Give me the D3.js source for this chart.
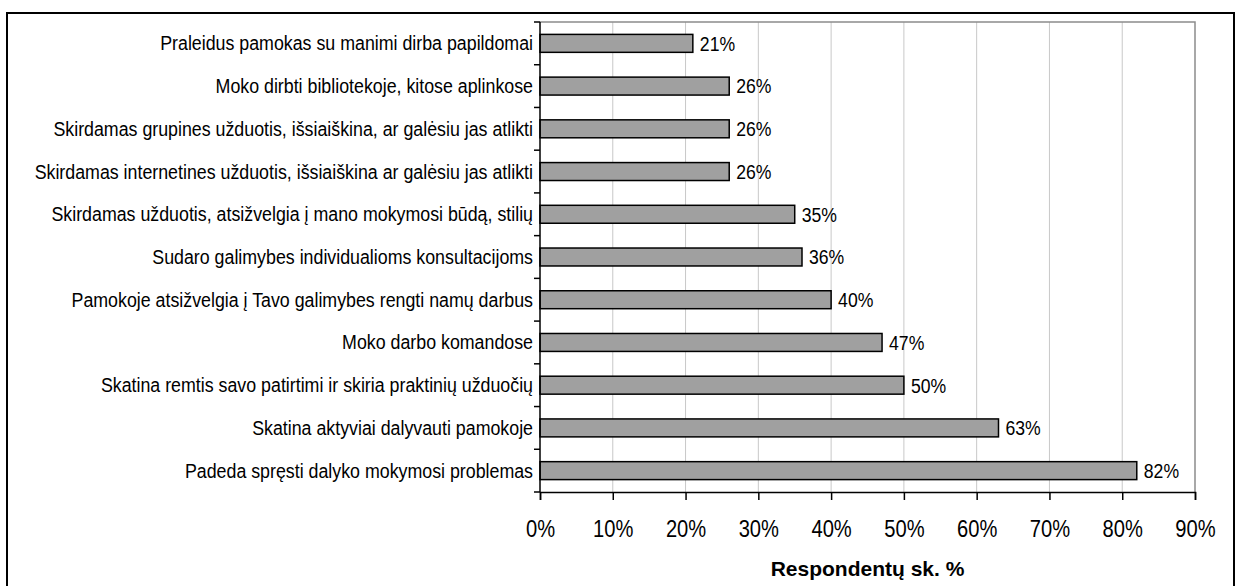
<!DOCTYPE html>
<html>
<head>
<meta charset="utf-8">
<script src="https://cdn.jsdelivr.net/npm/d3@7"></script>
<style>
  body { margin: 0; background: #fff; }
  svg { display: block; }
  text { font-family: "Liberation Sans", Arial, sans-serif; fill: #000; }
</style>
</head>
<body>
<div class="chart"></div>
<script>
// chart data, top bar first
const categories = [
  "Praleidus pamokas su manimi dirba papildomai",
  "Moko dirbti bibliotekoje, kitose aplinkose",
  "Skirdamas grupines užduotis, išsiaiškina, ar galėsiu jas atlikti",
  "Skirdamas internetines užduotis, išsiaiškina ar galėsiu jas atlikti",
  "Skirdamas užduotis, atsižvelgia į mano mokymosi būdą, stilių",
  "Sudaro galimybes individualioms konsultacijoms",
  "Pamokoje atsižvelgia į Tavo galimybes rengti namų darbus",
  "Moko darbo komandose",
  "Skatina remtis savo patirtimi ir skiria praktinių užduočių",
  "Skatina aktyviai dalyvauti pamokoje",
  "Padeda spręsti dalyko mokymosi problemas"
];
const values = [21, 26, 26, 26, 35, 36, 40, 47, 50, 63, 82];
const xTicks = [0, 10, 20, 30, 40, 50, 60, 70, 80, 90];
const axisTitle = "Respondentų sk. %";

const w = 1236, h = 586;
const plot = { left: 540, right: 1195, top: 22, bottom: 492 };
const narrow = 0.84; // no Arial Narrow here, squeeze Liberation Sans instead

const svg = d3.select(".chart").append("svg")
  .attr("width", w)
  .attr("height", h);

// outer frame (bottom edge runs off the picture)
svg.append("rect")
  .attr("x", 7).attr("y", 13)
  .attr("width", 1227).attr("height", 600)
  .attr("fill", "none")
  .attr("stroke", "#000")
  .attr("stroke-width", 2);

const x = d3.scaleLinear().domain([0, 90]).range([plot.left, plot.right]);
const y = d3.scaleBand().domain(categories).range([plot.top, plot.bottom])
  .paddingInner(0.58).paddingOuter(0.29);

// grid
svg.append("g").selectAll("line")
  .data(xTicks.filter(d => d > 0 && d < 90))
  .enter().append("line")
  .attr("x1", d => x(d)).attr("x2", d => x(d))
  .attr("y1", plot.top).attr("y2", plot.bottom)
  .attr("stroke", "#c8c8c8").attr("stroke-width", 1);

// plot frame top + right
svg.append("path")
  .attr("d", `M${plot.left},${plot.top}H${plot.right}V${plot.bottom}`)
  .attr("fill", "none").attr("stroke", "#8c8c8c").attr("stroke-width", 1.5);

// bars
svg.append("g").selectAll("rect")
  .data(categories)
  .enter().append("rect")
  .attr("x", x(0))
  .attr("y", d => y(d))
  .attr("width", (d, i) => x(values[i]) - x(0))
  .attr("height", y.bandwidth())
  .attr("fill", "#a0a0a0")
  .attr("stroke", "#000")
  .attr("stroke-width", 1.5);

// value labels
svg.append("g").selectAll("text")
  .data(categories)
  .enter().append("text")
  .attr("transform", (d, i) => `translate(${x(values[i]) + 7},${y(d) + y.bandwidth() / 2}) scale(${narrow},1)`)
  .attr("dy", "0.35em")
  .style("font-size", "21px")
  .text((d, i) => values[i] + "%");

// x axis
const xAxis = d3.axisBottom(x)
  .tickValues(xTicks)
  .tickSize(8)
  .tickPadding(20)
  .tickFormat(d => d + "%");

const gx = svg.append("g")
  .attr("transform", `translate(0,${plot.bottom})`)
  .call(xAxis);
gx.select(".domain").attr("stroke", "#000").attr("stroke-width", 1.5);
gx.selectAll(".tick line").attr("stroke", "#000").attr("stroke-width", 1.5);
gx.selectAll(".tick text")
  .style("font-size", "24px")
  .attr("transform", `scale(${narrow},1)`);
gx.attr("font-family", null).attr("font-size", null);

// y axis: category labels, ticks between bands
svg.append("line")
  .attr("x1", plot.left).attr("x2", plot.left)
  .attr("y1", plot.top).attr("y2", plot.bottom)
  .attr("stroke", "#000").attr("stroke-width", 1.5);

const bounds = d3.range(categories.length + 1).map(i => plot.top + i * y.step());
svg.append("g").selectAll("line")
  .data(bounds)
  .enter().append("line")
  .attr("x1", plot.left - 6).attr("x2", plot.left)
  .attr("y1", d => d).attr("y2", d => d)
  .attr("stroke", "#000").attr("stroke-width", 1.5);

svg.append("g").selectAll("text")
  .data(categories)
  .enter().append("text")
  .attr("transform", d => `translate(${plot.left - 7},${y(d) + y.bandwidth() / 2}) scale(0.89,1)`)
  .attr("dy", "0.35em")
  .attr("text-anchor", "end")
  .style("font-size", "20px")
  .text(d => d);

// axis title
svg.append("text")
  .attr("x", (plot.left + plot.right) / 2)
  .attr("y", 576)
  .attr("text-anchor", "middle")
  .style("font-weight", "bold")
  .style("font-size", "21px")
  .text(axisTitle);
</script>
</body>
</html>
